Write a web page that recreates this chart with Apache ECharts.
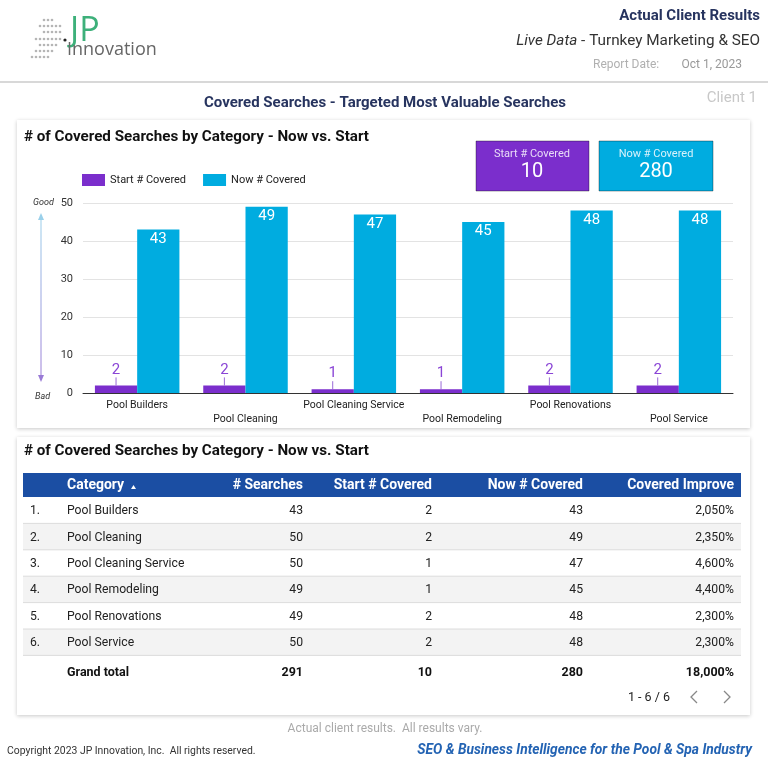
<!DOCTYPE html>
<html><head><meta charset="utf-8">
<script src="https://cdn.jsdelivr.net/npm/echarts@6/dist/echarts.min.js"></script>
<style>html,body{margin:0;padding:0;background:#fff}#c{width:768px;height:768px}</style>
</head><body><div id="c"></div>
<script>
const categories = ['Pool Builders','Pool Cleaning','Pool Cleaning Service','Pool Remodeling','Pool Renovations','Pool Service'];
const searches = [43,50,50,49,49,50];
const startCovered = [2,2,1,1,2,2];
const nowCovered = [43,49,47,45,48,48];
const improve = ['2,050%','2,350%','4,600%','4,400%','2,300%','2,300%'];
const totals = ['291','10','280','18,000%'];
const startTotal = 10, nowTotal = 280;
const yTicks = [0,10,20,30,40,50];

const PURPLE = '#7b2ecc', CYAN = '#00ace0', NAVY = '#27345f', FONT = 'Roboto';
const chart = echarts.init(document.getElementById('c'));
const G = [];
function zOf(o,d){ return (o && o.z !== undefined) ? o.z : d; }
function txt(x,y,t,o){ const s=Object.assign({text:t,fontFamily:FONT,fontSize:12,fill:'#222',textAlign:'left',textVerticalAlign:'middle'},o||{}); const z=zOf(o,10); delete s.z; G.push({type:'text',x:x,y:y,z:z,style:s}); }
function rect(x,y,w,h,o){ const s=Object.assign({fill:'#fff'},o||{}); const z=zOf(o,1); delete s.z; G.push({type:'rect',shape:{x:x,y:y,width:w,height:h},z:z,style:s}); }

// header
rect(0,0,768,82,{fill:'#fff',z:-10});
G.push({type:'line',shape:{x1:0,y1:82,x2:768,y2:82},z:-9,style:{stroke:'#d8d8d8',lineWidth:2}});
// logo dots
const dotRows = [[44,48,52],[40,44,48,52,56,60],[44,48,52,56,60],[36,40,44,48,52,56,60],[40,44,48,52,56],[36,40,44,48,52],[32,36,40,44,48]];
const dotY = [20,26,32,39,45,51,57];
dotRows.forEach((r,i)=>r.forEach(x=>G.push({type:'circle',shape:{cx:x,cy:dotY[i],r:1.3},z:5,style:{fill:'#b5b5b5'}})));
G.push({type:'circle',shape:{cx:65,cy:40,r:1.6},z:5,style:{fill:'#222'}});
txt(70,31,'JP',{fontSize:34,fill:'#3db07a',fontFamily:'Open Sans'});
txt(67,50,'Innovation',{fontSize:18,fill:'#666',fontFamily:'Open Sans'});
txt(760,16,'Actual Client Results',{fontSize:15,fontWeight:'bold',fill:NAVY,textAlign:'right'});
G.push({type:'text',x:760,y:41,z:10,style:{rich:{i:{fontStyle:'italic',fontSize:15.3,fontFamily:FONT,fill:'#333'},n:{fontSize:15.3,fontFamily:FONT,fill:'#333'}},text:'{i|Live Data}{n| - Turnkey Marketing & SEO}',textAlign:'right',textVerticalAlign:'middle'}});
txt(593,65,'Report Date:',{fontSize:12,fill:'#b0b0b0'});
txt(742,65,'Oct 1, 2023',{fontSize:12,fill:'#999',textAlign:'right'});

txt(385,103,'Covered Searches - Targeted Most Valuable Searches',{fontSize:15,fontWeight:'bold',fill:NAVY,textAlign:'center'});
txt(757,98,'Client 1',{fontSize:15,fill:'#c8c8c8',textAlign:'right'});

// cards
rect(17,120,733,308,{fill:'#fff',shadowBlur:4,shadowColor:'rgba(0,0,0,0.22)',shadowOffsetY:1,z:-8});
rect(17,437,733,278,{fill:'#fff',shadowBlur:4,shadowColor:'rgba(0,0,0,0.22)',shadowOffsetY:1,z:-8});
txt(24,137,'# of Covered Searches by Category - Now vs. Start',{fontSize:15.2,fontWeight:'bold',fill:'#111'});
txt(24,451,'# of Covered Searches by Category - Now vs. Start',{fontSize:15.2,fontWeight:'bold',fill:'#111'});

// scorecards
rect(476,141,113,50,{fill:PURPLE,stroke:'rgba(0,0,0,0.35)',lineWidth:1,z:3});
rect(599,141,114,50,{fill:CYAN,stroke:'rgba(0,0,0,0.35)',lineWidth:1,z:3});
txt(532,154,'Start # Covered',{fontSize:11,fill:'#e8dcf7',textAlign:'center'});
txt(532,172,String(startTotal),{fontSize:20,fill:'#fff',textAlign:'center'});
txt(656,154,'Now # Covered',{fontSize:11,fill:'#d8f2fb',textAlign:'center'});
txt(656,172,String(nowTotal),{fontSize:20,fill:'#fff',textAlign:'center'});

// good / bad arrow
txt(33,203,'Good',{fontSize:9,fontStyle:'italic',fill:'#333'});
txt(35,397,'Bad',{fontSize:9,fontStyle:'italic',fill:'#333'});
G.push({type:'line',shape:{x1:41,y1:218,x2:41,y2:376},z:5,style:{lineWidth:1,stroke:new echarts.graphic.LinearGradient(0,0,0,1,[{offset:0,color:'#9ad0ea'},{offset:1,color:'#9a7bd6'}])}});
G.push({type:'polygon',shape:{points:[[41,213],[38,220],[44,220]]},z:5,style:{fill:'#9ad0ea'}});
G.push({type:'polygon',shape:{points:[[41,382],[38,375],[44,375]]},z:5,style:{fill:'#9a7bd6'}});

// table
const colX = [30,67,303,432,583,734];
const colAlign = ['left','left','right','right','right','right'];
rect(23,473,718,24,{fill:'#1b4ea3',z:2});
const heads = ['','Category','# Searches','Start # Covered','Now # Covered','Covered Improve'];
heads.forEach((h,j)=>{ if(h) txt(colX[j],485.5,h,{fontSize:14,fontWeight:'bold',fill:'#fff',textAlign:colAlign[j]}); });
G.push({type:'polygon',shape:{points:[[133.5,485],[131,489],[136,489]]},z:10,style:{fill:'#fff'}});
const RH = 26.4;
categories.forEach((c,i)=>{
  const top = 497 + i*RH, cy = top + RH/2 + 1;
  if(i%2===1) rect(23,top,718,RH,{fill:'#f3f3f3',z:1});
  G.push({type:'line',shape:{x1:23,y1:top+RH,x2:741,y2:top+RH},z:2,style:{stroke:'#dcdcdc',lineWidth:1}});
  const vals = [(i+1)+'.',c,String(searches[i]),String(startCovered[i]),String(nowCovered[i]),improve[i]];
  vals.forEach((v,j)=>txt(colX[j],cy,v,{fontSize:12.2,fill:'#222',textAlign:colAlign[j]}));
});
txt(67,673,'Grand total',{fontSize:12.5,fontWeight:'bold',fill:'#111'});
totals.forEach((v,j)=>txt(colX[j+2],673,v,{fontSize:12.5,fontWeight:'bold',fill:'#111',textAlign:'right'}));
txt(670,698,'1 - 6 / 6',{fontSize:12.5,fill:'#222',textAlign:'right'});
G.push({type:'polyline',shape:{points:[[697,691],[691,697],[697,703]]},z:5,style:{stroke:'#888',lineWidth:1.3,fill:null}});
G.push({type:'polyline',shape:{points:[[724,691],[730,697],[724,703]]},z:5,style:{stroke:'#888',lineWidth:1.3,fill:null}});

// footer
txt(385,729,'Actual client results.  All results vary.',{fontSize:12,fill:'#aaa',textAlign:'center'});
txt(7,751,'Copyright 2023 JP Innovation, Inc.  All rights reserved.',{fontSize:10.4,fill:'#333'});
txt(752,751,'SEO & Business Intelligence for the Pool & Spa Industry',{fontSize:13.8,fontWeight:'bold',fontStyle:'italic',fill:'#2363b3',textAlign:'right'});

chart.setOption({
  animation:false,
  backgroundColor:'transparent',
  graphic:G,
  legend:{left:82,top:174,padding:0,itemWidth:23,itemHeight:12,itemGap:17,icon:'rect',
    textStyle:{fontFamily:FONT,fontSize:11,color:'#222'},data:['Start # Covered','Now # Covered']},
  grid:{left:83,right:35,top:203,bottom:375,containLabel:false},
  xAxis:{type:'category',data:categories,
    axisLine:{lineStyle:{color:'#333',width:1}},axisTick:{show:false},
    axisLabel:{interval:0,fontFamily:FONT,fontSize:10.5,color:'#222',margin:5,lineHeight:14,
      formatter:(v,i)=> i%2===0 ? v : '\n'+v}},
  yAxis:{type:'value',min:0,max:50,interval:10,
    axisLine:{show:false},axisTick:{show:false},
    axisLabel:{fontFamily:FONT,fontSize:11,color:'#333',margin:10},
    splitLine:{lineStyle:{color:'#e3e3e3'}}},
  series:[
    {name:'Start # Covered',type:'bar',data:startCovered,barWidth:'39%',barGap:'0%',
      itemStyle:{color:PURPLE},
      label:{show:true,position:'top',distance:0,fontFamily:FONT,fontSize:15,color:'#8a45d6'},
      labelLayout:{dy:-8},
      labelLine:{show:true,lineStyle:{color:'#9a6ad8',width:1}}},
    {name:'Now # Covered',type:'bar',data:nowCovered,barWidth:'39%',
      itemStyle:{color:CYAN},
      label:{show:true,position:'insideTop',distance:2,fontFamily:FONT,fontSize:15,color:'#fff'}}
  ]
});
</script></body></html>
